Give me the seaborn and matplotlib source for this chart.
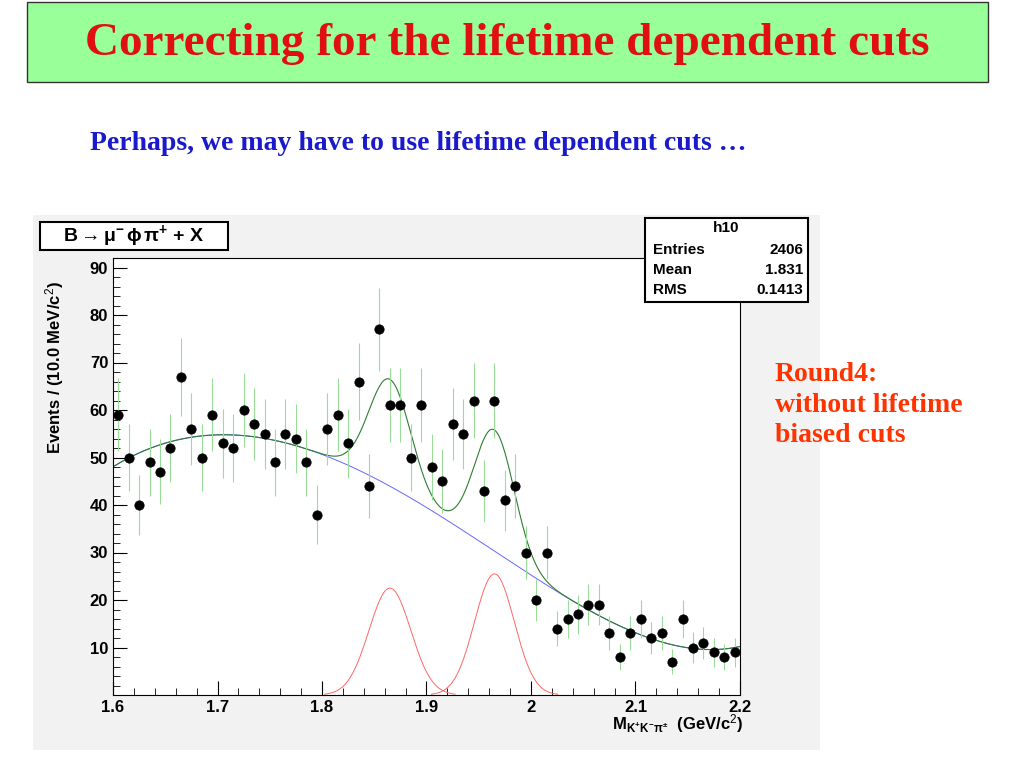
import numpy as np
import matplotlib
matplotlib.use("Agg")
import matplotlib.pyplot as plt
import seaborn as sns
from matplotlib.patches import Rectangle

sns.set_theme(style="white")
plt.rcParams['font.family'] = ['Liberation Sans', 'DejaVu Sans']
plt.rcParams['text.color'] = 'black'
plt.rcParams['axes.labelcolor'] = 'black'
plt.rcParams['xtick.color'] = 'black'
plt.rcParams['ytick.color'] = 'black'
plt.rcParams['mathtext.fontset'] = 'custom'
plt.rcParams['mathtext.rm'] = 'Liberation Sans'
plt.rcParams['mathtext.bf'] = 'Liberation Sans:bold'
plt.rcParams['mathtext.it'] = 'Liberation Sans:italic'

bin_centers = np.round(np.arange(1.605, 2.2, 0.01), 3)
counts = [59,50,40,49,47,52,67,56,50,59,53,52,60,57,55,49,55,54,49,38,
          56,59,53,66,44,77,61,61,50,61,48,45,57,55,62,43,62,41,44,30,
          20,30,14,16,17,19,19,13,8,13,16,12,13,7,16,10,11,9,8,9]
bkg_x = [1.6, 1.65, 1.7, 1.75, 1.8, 1.85, 1.9, 1.95, 2.0, 2.05, 2.1, 2.15, 2.2]
bkg_y = [48, 53, 55, 54, 50, 45.5, 40, 33, 25, 18, 13, 10.5, 10]
peak_means = [1.865, 1.965]
peak_heights = [22.5, 25.5]
peak_sigmas = [0.02, 0.019]

fig = plt.figure(figsize=(10.24, 7.68), dpi=100)
fig.patch.set_facecolor("white")
W, H = 1024, 768
def fr(x0, y0, x1, y1):
    return [x0 / W, 1 - y1 / H, (x1 - x0) / W, (y1 - y0) / H]

fig.patches.append(Rectangle((27 / W, 1 - 82 / H), 961 / W, 80 / H, transform=fig.transFigure,
                             facecolor="#99ff99", edgecolor="#333333", lw=1))
fig.text(507 / W, 1 - 44 / H, "Correcting for the lifetime dependent cuts", ha="center", va="center",
         color="#e01010", fontsize=34, fontweight="bold", family="Liberation Serif")
fig.text(90 / W, 1 - 143 / H, "Perhaps, we may have to use lifetime dependent cuts …", ha="left", va="center",
         color="#1a1acc", fontsize=20, fontweight="bold", family="Liberation Serif")
fig.text(775 / W, 1 - 405 / H, "Round4:\nwithout lifetime\nbiased cuts", ha="left", va="center",
         color="#ff3300", fontsize=20, fontweight="bold", family="Liberation Serif", linespacing=1.3)

fig.patches.append(Rectangle((33 / W, 1 - 750 / H), 787 / W, 535 / H, transform=fig.transFigure,
                             facecolor="#f2f2f2", edgecolor="none", zorder=0))

ax = fig.add_axes(fr(113, 258, 740, 695))
ax.set_zorder(2)
ax.set_facecolor("white")
ax.set_xlim(1.6, 2.2)
ax.set_ylim(0, 92)

xs = np.linspace(1.6, 2.2, 600)
coef = np.polyfit(bkg_x, bkg_y, 5)
bkg = np.polyval(coef, xs)
g = [h * np.exp(-0.5 * ((xs - m) / s) ** 2) for m, h, s in zip(peak_means, peak_heights, peak_sigmas)]
sns.lineplot(x=xs, y=bkg, ax=ax, color="#6666ff", lw=0.7)
for gi in g:
    gm = np.where(gi > 0.15, gi, np.nan)
    ax.plot(xs, gm, color="#ff6666", lw=0.7)
sns.lineplot(x=xs, y=bkg + g[0] + g[1], ax=ax, color="#2e7d32", lw=0.8)

cnt = np.array(counts, float)
ax.errorbar(bin_centers, cnt, yerr=np.sqrt(cnt), fmt="none", ecolor="#99dd99", elinewidth=0.8)
sns.scatterplot(x=bin_centers, y=cnt, ax=ax, color="black", s=45, edgecolor="black", zorder=5)

ax.set_xticks([1.6, 1.7, 1.8, 1.9, 2.0, 2.1, 2.2])
ax.set_xticklabels(["1.6", "1.7", "1.8", "1.9", "2", "2.1", "2.2"])
ax.set_yticks([10, 20, 30, 40, 50, 60, 70, 80, 90])
ax.set_xticks(np.arange(1.6, 2.2001, 0.02), minor=True)
ax.set_yticks(np.arange(0, 92, 2), minor=True)
ax.tick_params(axis="both", which="major", direction="in", length=10, labelsize=12, width=0.8)
ax.tick_params(axis="both", which="minor", direction="in", length=5, width=0.6)
ax.tick_params(axis="x", which="both", top=False, bottom=True)
ax.tick_params(axis="y", which="both", left=True)
for l in ax.get_xticklabels() + ax.get_yticklabels():
    l.set_fontweight("bold")
for sp in ax.spines.values():
    sp.set_linewidth(0.8)
    sp.set_color("black")
ax.set_ylabel("Events / (10.0 MeV/c$^2$)", fontsize=12, fontweight="bold")
ax.yaxis.set_label_coords(-0.075, 0.75)
ax.set_xlabel(r"$\mathbf{M_{K^{+}K^{-}\pi^{\pm}}}$  (GeV/c$^2$)", fontsize=12, fontweight="bold")
ax.xaxis.set_label_coords(0.9, -0.04)

fig.patches.append(Rectangle((40 / W, 1 - 250 / H), 188 / W, 28 / H, transform=fig.transFigure,
                             facecolor="white", edgecolor="black", lw=1.5, zorder=3))
fig.text(134 / W, 1 - 236 / H, r"$\mathbf{B \rightarrow \mu^{-}\,\phi\,\pi^{+}}$ + X", ha="center",
         va="center", fontsize=14, fontweight="bold", zorder=4)

fig.patches.append(Rectangle((645 / W, 1 - 302 / H), 163 / W, 84 / H, transform=fig.transFigure,
                             facecolor="white", edgecolor="black", lw=1.5, zorder=3))
fig.lines.append(plt.Line2D([645 / W, 808 / W], [1 - 238 / H] * 2, transform=fig.transFigure, color="black", lw=0.8))
fig.text(726 / W, 1 - 228 / H, "h10", ha="center", va="center", fontsize=11, fontweight="bold")
for i, (k, v) in enumerate([("Entries", "2406"), ("Mean", "1.831"), ("RMS", "0.1413")]):
    yy = 1 - (250 + i * 20) / H
    fig.text(653 / W, yy, k, ha="left", va="center", fontsize=11, fontweight="bold")
    fig.text(803 / W, yy, v, ha="right", va="center", fontsize=11, fontweight="bold")

fig.savefig("out.png", dpi=100)
